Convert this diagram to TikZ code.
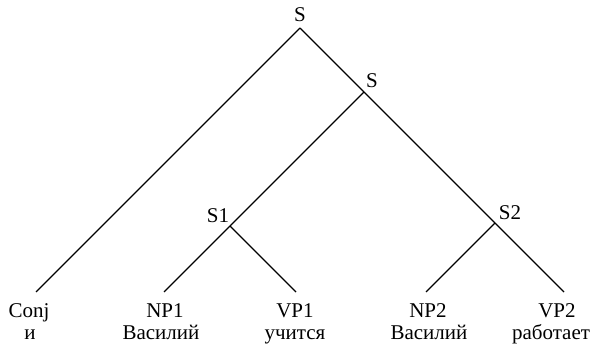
\documentclass[tikz,border=0pt]{standalone}
\usepackage{fontspec}
\setmainfont{Liberation Serif}
\begin{document}
\begin{tikzpicture}[x=1pt,y=-1pt,
  lbl/.style={anchor=base,inner sep=0pt,font=\fontsize{21}{24}\selectfont},
  edge/.style={draw=black,line width=1.1pt}]
\useasboundingbox (0,0) rectangle (604,344);
% junction points
\coordinate (s0) at (300,28);
\coordinate (s) at (364,92);
\coordinate (s1) at (230,226);
\coordinate (s2) at (495,223);
\coordinate (conjtop) at (36,292);
\coordinate (np1top) at (164,292);
\coordinate (vp1top) at (296,292);
\coordinate (np2top) at (426,292);
\coordinate (vp2top) at (564,292);
% labels
\node[lbl] (ls0) at (300,22) {S};
\node[lbl] (ls) at (372,88) {S};
\node[lbl] (ls1) at (218,223) {S1};
\node[lbl] (ls2) at (510,220) {S2};
\node[lbl] (conj) at (29,317) {Conj};
\node[lbl] (conjw) at (30,339) {и};
\node[lbl] (np1) at (165,317) {NP1};
\node[lbl] (np1w) at (161,339) {Василий};
\node[lbl] (vp1) at (295,317) {VP1};
\node[lbl] (vp1w) at (295,339) {учится};
\node[lbl] (np2) at (428,317) {NP2};
\node[lbl] (np2w) at (429,339) {Василий};
\node[lbl] (vp2) at (557,317) {VP2};
\node[lbl] (vp2w) at (551,339) {работает};
% edges
\draw[edge] (s0) -- (conjtop);
\draw[edge] (s0) -- (s);
\draw[edge] (s) -- (s1);
\draw[edge] (s) -- (s2);
\draw[edge] (s1) -- (np1top);
\draw[edge] (s1) -- (vp1top);
\draw[edge] (s2) -- (np2top);
\draw[edge] (s2) -- (vp2top);
\end{tikzpicture}
\end{document}
